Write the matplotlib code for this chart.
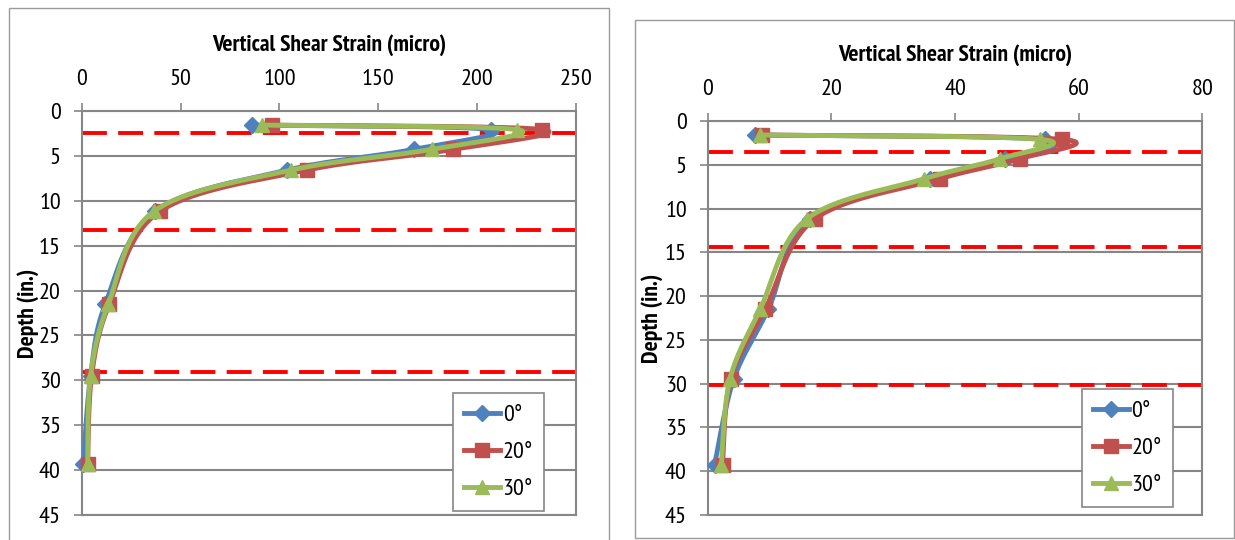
import numpy as np
import matplotlib
matplotlib.use("Agg")
import matplotlib.pyplot as plt
from matplotlib import font_manager as fm
from matplotlib.lines import Line2D
from matplotlib.patches import Rectangle

# narrow sans font if one is installed (the chart uses a condensed Calibri look)
available = set(f.name for f in fm.fontManager.ttflist)
prefs = ['Liberation Sans Narrow', 'Arial Narrow', 'PT Sans Narrow', 'Archivo Narrow',
         'Roboto Condensed', 'Open Sans Condensed', 'Fira Sans Condensed',
         'IBM Plex Sans Condensed', 'Carlito', 'Liberation Sans']
font = next((f for f in prefs if f in available), 'DejaVu Sans')
plt.rcParams['font.family'] = [font, 'DejaVu Sans']

# depth of each gauge (in.)
depth = [1.6, 2.1, 4.3, 6.6, 11.2, 21.5, 29.5, 39.3]

# left chart - vertical shear strain (micro)
left_0 = [86, 207, 168, 104, 37, 12, 4.5, 0.8]
left_20 = [96, 233, 188, 114, 39.5, 14, 5, 3]
left_30 = [91, 220, 177, 106, 36.5, 13.5, 4.5, 3]
left_layers = [2.5, 13.25, 29.1]

# right chart
right_0 = [7.6, 54.5, 48.1, 36.0, 16.5, 9.8, 4.2, 1.1]
right_20 = [8.8, 57.3, 50.5, 37.5, 17.3, 9.3, 3.7, 2.4]
right_30 = [8.4, 53.8, 47.3, 35.0, 16.0, 8.5, 3.6, 2.2]
right_layers = [3.5, 14.4, 30.1]

labels = ["0°", "20°", "30°"]
colors = ["#4F81BD", "#C0504D", "#9BBB59"]
markers = ["D", "s", "^"]
msizes = [8.5, 9.5, 10.5]


def smooth(x, y, n=40):
    # excel style smoothed line (bezier through the points)
    p = np.column_stack([x, y]).astype(float)
    pe = np.vstack([p[0], p, p[-1]])
    t = np.linspace(0, 1, n)[:, None]
    segs = []
    for i in range(len(p) - 1):
        p0, p1, p2, p3 = pe[i], pe[i + 1], pe[i + 2], pe[i + 3]
        c1 = p1 + (p2 - p0) / 6
        c2 = p2 - (p3 - p1) / 6
        segs.append((1 - t) ** 3 * p1 + 3 * (1 - t) ** 2 * t * c1
                    + 3 * (1 - t) * t ** 2 * c2 + t ** 3 * p2)
    s = np.vstack(segs)
    return s[:, 0], s[:, 1]


W, H = 1235, 540
fig = plt.figure(figsize=(W / 100, H / 100), dpi=100)

# panel borders
fig.patches.append(Rectangle((9 / W, 1 - 560 / H), 600 / W, 552 / H, transform=fig.transFigure,
                             fill=False, edgecolor="#9a9a9a", lw=1))
fig.patches.append(Rectangle((635 / W, 1 - 538 / H), 599 / W, 518 / H, transform=fig.transFigure,
                             fill=False, edgecolor="#9a9a9a", lw=1))

ax1 = fig.add_axes([81.7 / W, 1 - 515.3 / H, 494.3 / W, 404.6 / H])
ax2 = fig.add_axes([707.7 / W, 1 - 515 / H, 494.6 / W, 394 / H])

panels = [
    (ax1, [left_0, left_20, left_30], left_layers, 250, 50, (0.935, 0.01), 1.162, -0.109),
    (ax2, [right_0, right_20, right_30], right_layers, 80, 20, (0.94, 0.02), 1.167, -0.113),
]

for ax, series, layers, xmax, xstep, legpos, ty, lx in panels:
    ax.set_xlim(0, xmax)
    ax.set_ylim(45, 0)
    ax.set_xticks(np.arange(0, xmax + 1, xstep))
    ax.set_yticks(np.arange(0, 46, 5))
    ax.xaxis.tick_top()
    ax.xaxis.set_label_position("top")
    ax.tick_params(axis="both", direction="out", length=6, width=1.2, color="#868686",
                   labelsize=17.5, labelcolor="black")
    ax.tick_params(axis="x", pad=9)
    ax.tick_params(axis="y", pad=9)
    for sp in ax.spines.values():
        sp.set_color("#868686")
        sp.set_linewidth(1.5)
    ax.yaxis.grid(True, color="#868686", lw=1.5)
    ax.set_axisbelow(True)

    for d in layers:
        ax.axhline(d, color="#FF0000", lw=2.8, dashes=(6.4, 2.9), zorder=1.8)

    for vals, c, m, ms in zip(series, colors, markers, msizes):
        sx, sy = smooth(vals, depth)
        ax.plot(sx, sy, color=c, lw=3.5, solid_capstyle="round", zorder=3)
        ax.plot(vals, depth, ls="none", marker=m, ms=ms, color=c, zorder=3, clip_on=False)

    ax.set_xlabel("Vertical Shear Strain (micro)", fontsize=17, fontweight="bold")
    ax.xaxis.label.set_va("center")
    ax.xaxis.set_label_coords(0.5, ty)
    ax.set_ylabel("Depth (in.)", fontsize=17, fontweight="bold")
    ax.yaxis.label.set_va("center")
    ax.yaxis.set_label_coords(lx, 0.5)

    handles = [Line2D([], [], color=c, lw=3.5, marker=m, ms=ms) for c, m, ms in zip(colors, markers, msizes)]
    leg = ax.legend(handles, labels, loc="lower right", bbox_to_anchor=legpos, fontsize=17.5,
                    frameon=True, fancybox=False, framealpha=1, edgecolor="#868686",
                    handlelength=1.5, handletextpad=0.1, labelspacing=0.62, borderpad=0.45,
                    borderaxespad=0)
    leg.get_frame().set_linewidth(1.2)

fig.savefig("out.png", dpi=100)
